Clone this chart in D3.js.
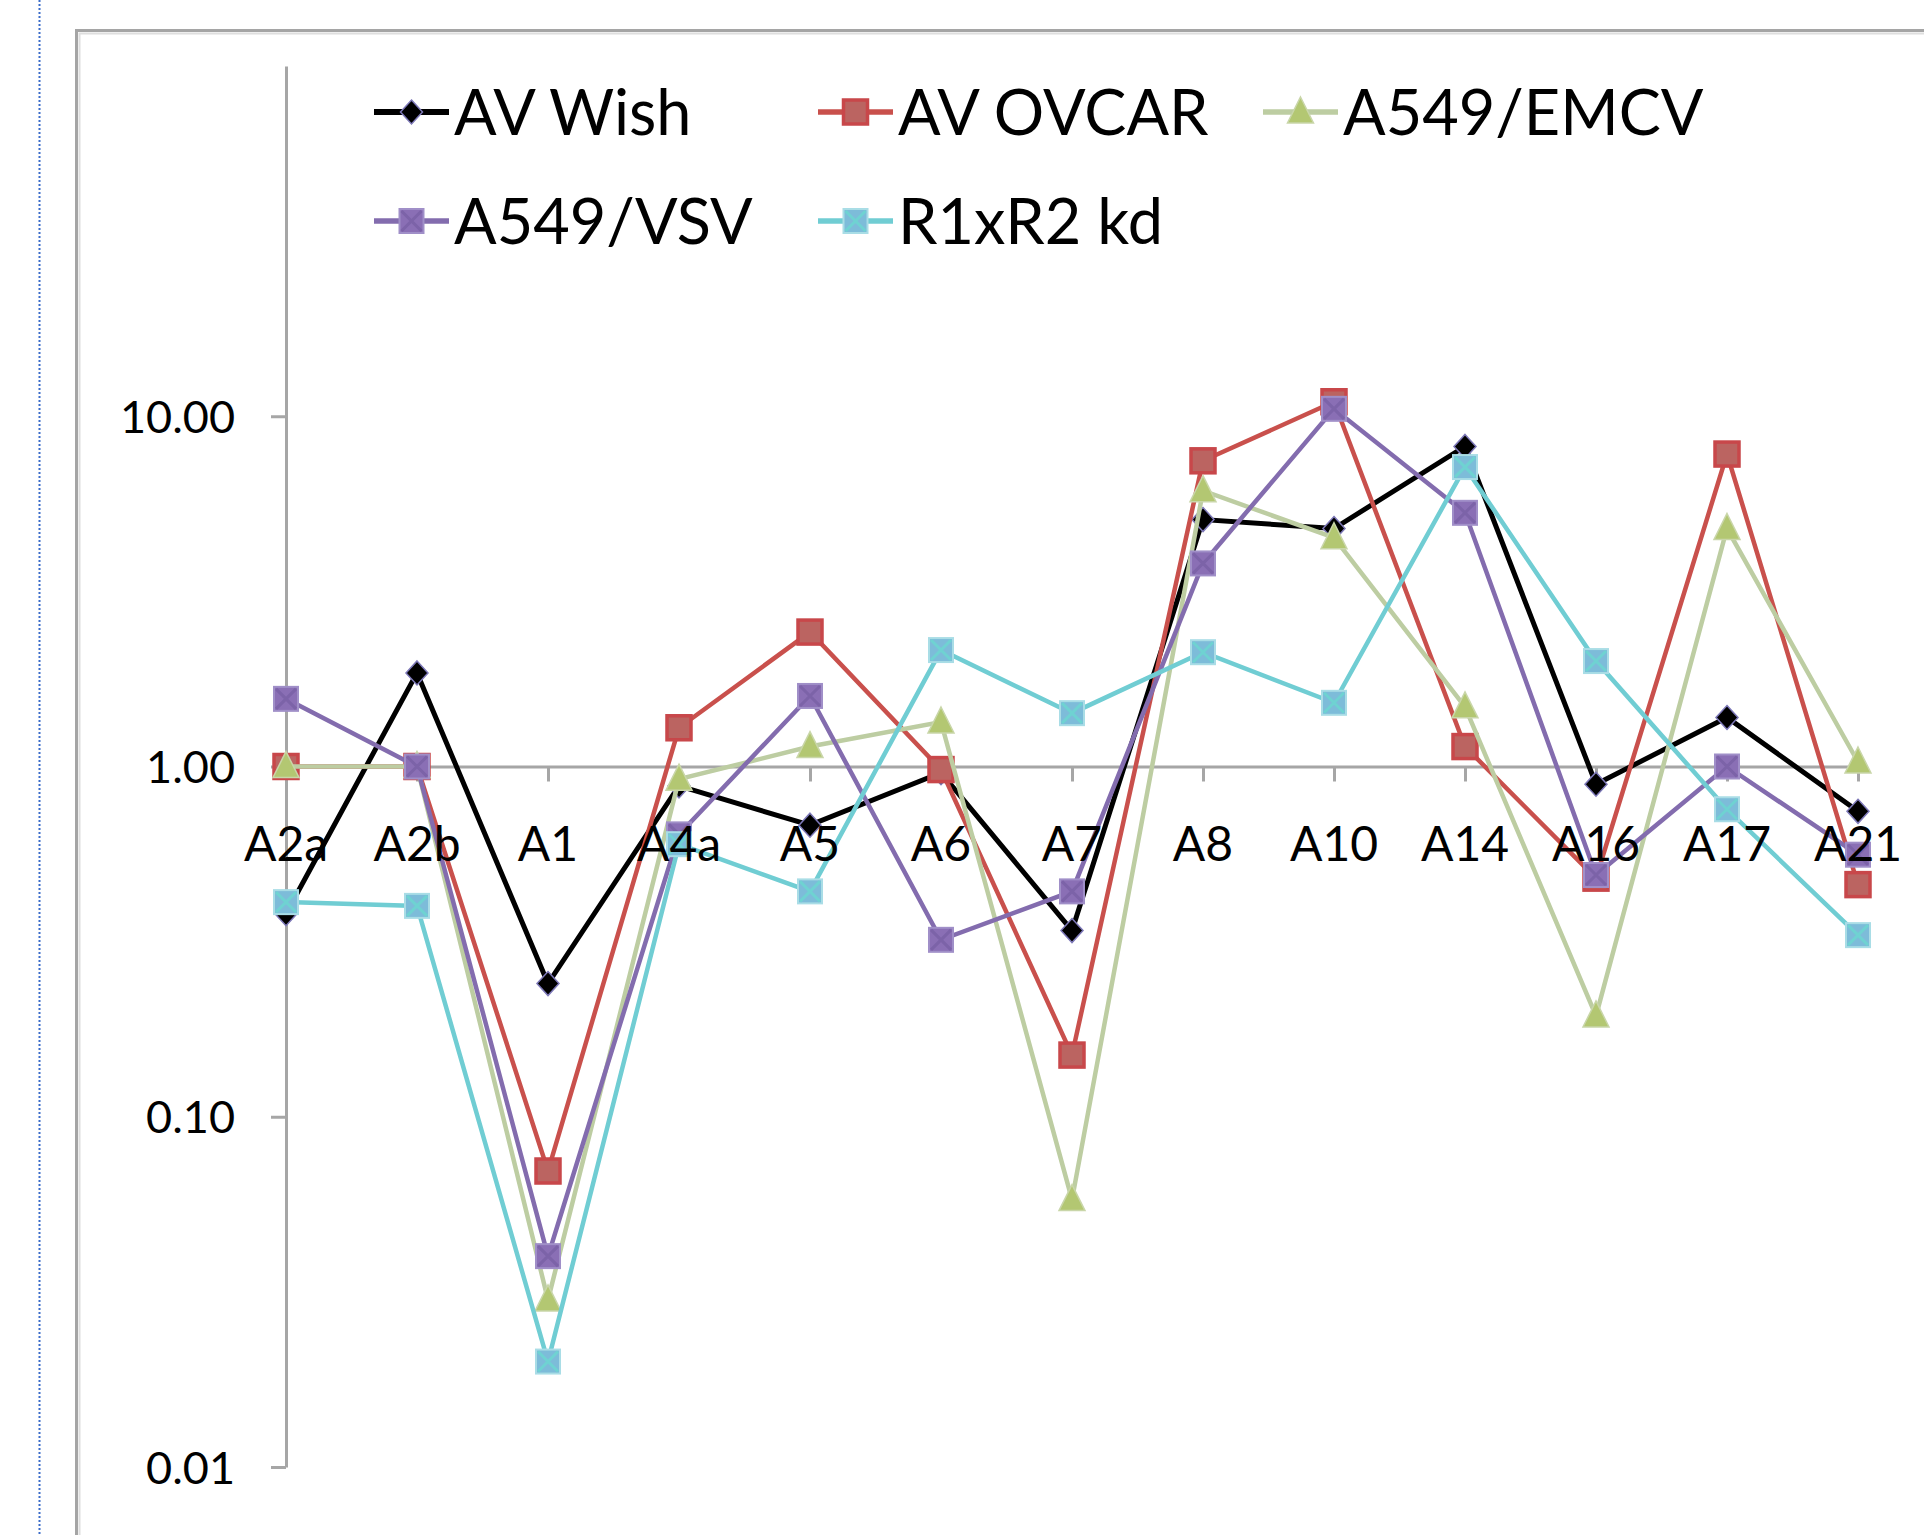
<!DOCTYPE html>
<html>
<head>
<meta charset="utf-8">
<script src="https://cdn.jsdelivr.net/npm/d3@7"></script>
<style>
  html, body { margin: 0; padding: 0; background: #fff; }
  svg { display: block; }
  text { font-family: Lato, "Open Sans", sans-serif; fill: #000; }
</style>
</head>
<body>
<svg id="chart" width="1924" height="1535"></svg>
<script>
// ---- data ----
const categories = ["A2a","A2b","A1","A4a","A5","A6","A7","A8","A10","A14","A16","A17","A21"];
const avWish  = [0.38, 1.85, 0.24, 0.88, 0.68, 0.96, 0.34, 5.07, 4.78, 8.2, 0.89, 1.38, 0.745];
const avOvcar = [1.0, 1.0, 0.07, 1.29, 2.42, 0.98, 0.15, 7.46, 11.0, 1.14, 0.48, 7.8, 0.46];
const a549Emcv = [1.0, 1.0, 0.03, 0.92, 1.14, 1.34, 0.058, 6.13, 4.5, 1.48, 0.194, 4.78, 1.03];
const a549Vsv = [1.56, 1.0, 0.04, 0.64, 1.59, 0.32, 0.44, 3.8, 10.5, 5.3, 0.49, 1.0, 0.56];
const r1r2kd  = [0.41, 0.40, 0.02, 0.6, 0.44, 2.15, 1.42, 2.12, 1.52, 7.16, 2.0, 0.755, 0.33];
const seriesNames = ["AV Wish", "AV OVCAR", "A549/EMCV", "A549/VSV", "R1xR2 kd"];
const yTickValues = [0.01, 0.1, 1, 10];

const series = [
  { name: seriesNames[0], values: avWish,  line: "#000000", marker: "diamond", fill: "#000000", stroke: "#7d78b8", lw: 5 },
  { name: seriesNames[1], values: avOvcar, line: "#c9504c", marker: "square",  fill: "#bb6461", stroke: "#c8474a", lw: 4.5 },
  { name: seriesNames[2], values: a549Emcv, line: "#bdcda2", marker: "triangle", fill: "#b3c772", stroke: "#c9d6a9", lw: 4.5 },
  { name: seriesNames[3], values: a549Vsv, line: "#836cae", marker: "squarex", fill: "#8a6fb5", stroke: "#a08fc8", xs: "#7c63a8", lw: 4.5 },
  { name: seriesNames[4], values: r1r2kd,  line: "#70cdd3", marker: "squarex", fill: "#7dbcd9", stroke: "#a9dde6", xs: "#6fd2d2", lw: 4.5 }
];

const svg = d3.select("#chart");

// dotted page guide line
svg.append("line").attr("x1", 39.5).attr("x2", 39.5).attr("y1", 0).attr("y2", 1535)
  .attr("stroke", "#3b6cc9").attr("stroke-width", 2).attr("stroke-dasharray", "2,2");

// chart border (cropped on right/bottom)
svg.append("rect").attr("x", 76.5).attr("y", 30.5).attr("width", 2000).attr("height", 2000)
  .attr("fill", "#fff").attr("stroke", "#a5a5a5").attr("stroke-width", 3);
svg.append("rect").attr("x", 79.5).attr("y", 33.5).attr("width", 2000).attr("height", 2000)
  .attr("fill", "none").attr("stroke", "#dedede").attr("stroke-width", 2);

// scales
const x = d3.scalePoint().domain(categories).range([286, 1858]);
const y = d3.scaleLog().domain([0.01, 100]).range([1467, 66]);

// y axis
const yAxis = d3.axisLeft(y).tickValues(yTickValues).tickFormat(d3.format(".2f"))
  .tickSize(15).tickSizeOuter(0).tickPadding(36);
const gy = svg.append("g").attr("transform", "translate(286,0)").call(yAxis);
gy.selectAll("path, line").attr("stroke", "#a6a6a6").attr("stroke-width", 3);
gy.selectAll("text").style("font-size", "45px").attr("dy", "0.36em").attr("fill", "#000");

// x axis crossing at 1.0
const xAxis = d3.axisBottom(x).tickSize(15).tickSizeOuter(0);
const gx = svg.append("g").attr("transform", `translate(0,${y(1)})`).call(xAxis);
gx.selectAll("path, line").attr("stroke", "#a6a6a6").attr("stroke-width", 3);
gx.selectAll("text").remove();

// marker drawing
function drawMarker(g, s, cx, cy) {
  if (s.marker === "diamond") {
    g.append("path")
      .attr("d", `M${cx},${cy-12} L${cx+11},${cy} L${cx},${cy+12} L${cx-11},${cy} Z`)
      .attr("fill", s.fill).attr("stroke", s.stroke).attr("stroke-width", 1.5);
  } else if (s.marker === "square") {
    g.append("rect").attr("x", cx-12).attr("y", cy-12).attr("width", 24).attr("height", 24)
      .attr("fill", s.fill).attr("stroke", s.stroke).attr("stroke-width", 3.5);
  } else if (s.marker === "triangle") {
    g.append("path")
      .attr("d", `M${cx},${cy-15} L${cx+13},${cy+11} L${cx-13},${cy+11} Z`)
      .attr("fill", s.fill).attr("stroke", s.stroke).attr("stroke-width", 1.5);
  } else if (s.marker === "squarex") {
    g.append("rect").attr("x", cx-12).attr("y", cy-12).attr("width", 24).attr("height", 24)
      .attr("fill", s.fill).attr("stroke", s.stroke).attr("stroke-width", 2);
    g.append("path")
      .attr("d", `M${cx-10},${cy-10} L${cx+10},${cy+10} M${cx+10},${cy-10} L${cx-10},${cy+10}`)
      .attr("stroke", s.xs).attr("stroke-width", 3).attr("fill", "none");
  }
}

// series
const line = d3.line().x((d, i) => x(categories[i])).y(d => y(d));
series.forEach(s => {
  const g = svg.append("g");
  g.append("path").datum(s.values).attr("d", line)
    .attr("fill", "none").attr("stroke", s.line).attr("stroke-width", s.lw)
    .attr("stroke-linejoin", "miter");
  s.values.forEach((v, i) => drawMarker(g, s, x(categories[i]), y(v)));
});

// category labels (on top)
svg.append("g").selectAll("text").data(categories).join("text")
  .attr("x", d => x(d)).attr("y", 861)
  .attr("text-anchor", "middle").style("font-size", "48px").text(d => d);

// legend
const legendPos = [
  { x: 374, y: 112 }, { x: 818, y: 112 }, { x: 1263, y: 112 },
  { x: 374, y: 221 }, { x: 818, y: 221 }
];
series.forEach((s, i) => {
  const p = legendPos[i];
  const g = svg.append("g");
  g.append("line").attr("x1", p.x).attr("x2", p.x + 75).attr("y1", p.y).attr("y2", p.y)
    .attr("stroke", s.line).attr("stroke-width", s.lw + 1);
  drawMarker(g, s, p.x + 37.5, p.y);
  g.append("text").attr("x", p.x + 80).attr("y", p.y + 23)
    .style("font-size", "63px").text(s.name);
});
</script>
</body>
</html>
